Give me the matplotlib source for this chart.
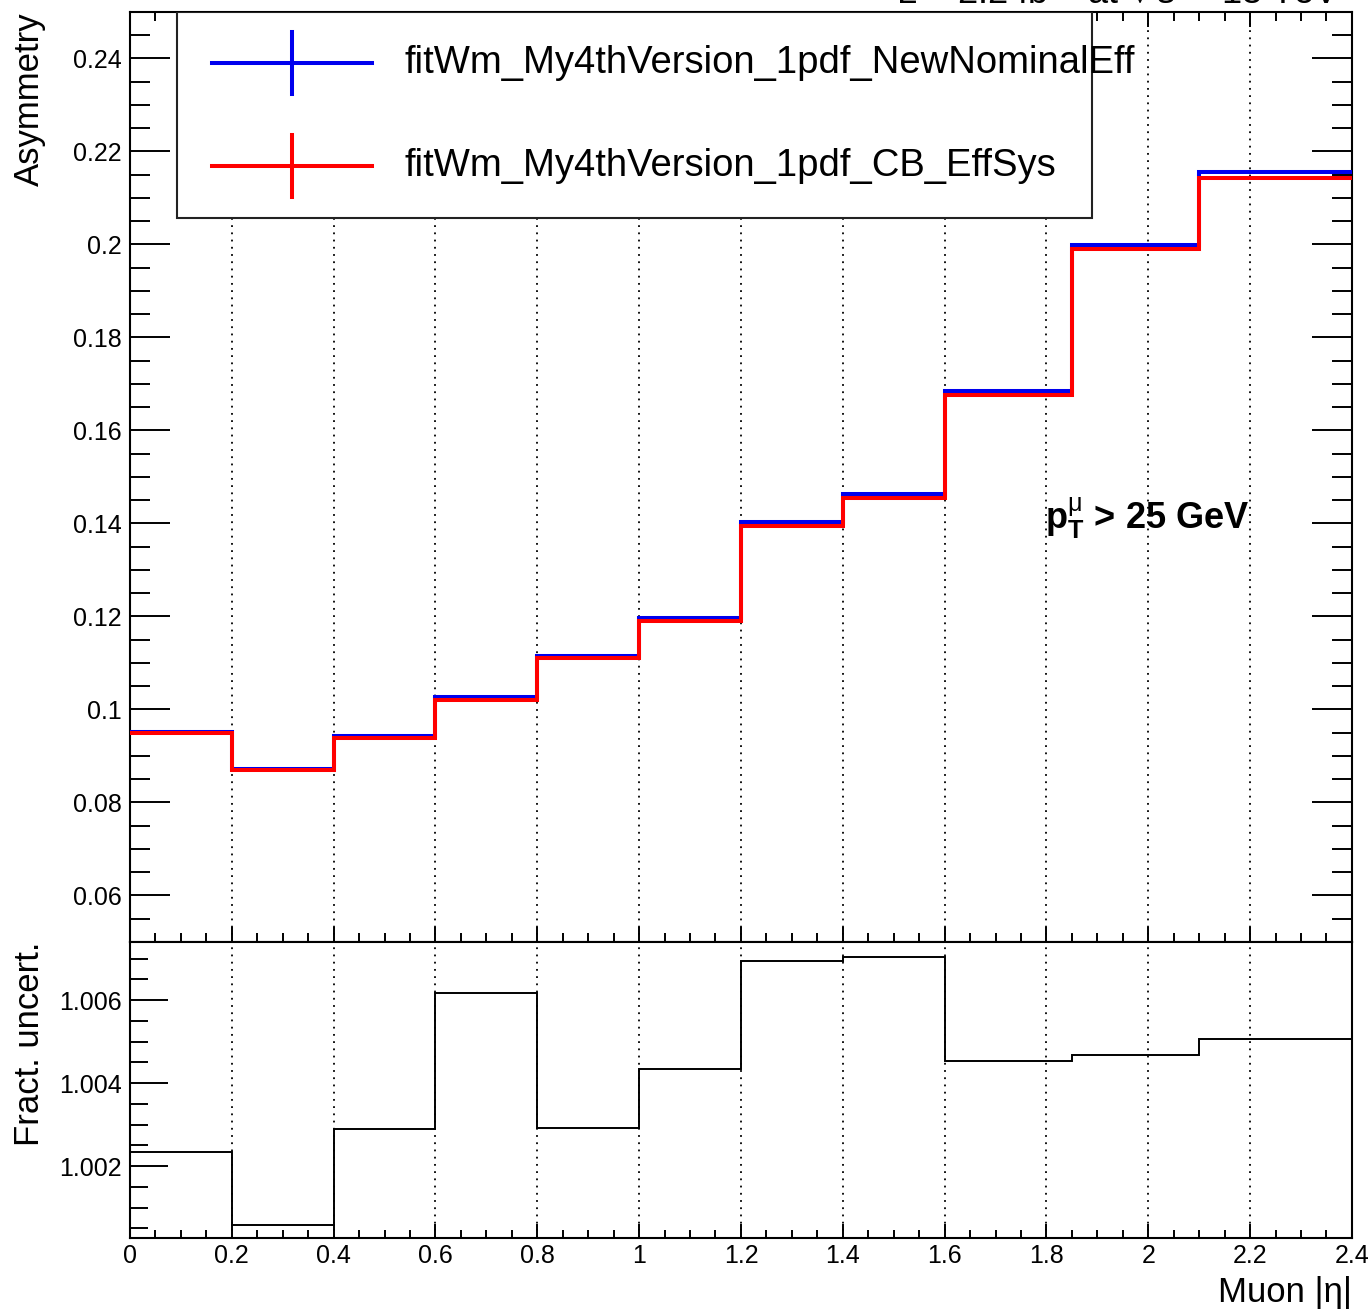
import matplotlib
matplotlib.use("Agg")
import matplotlib.pyplot as plt
from matplotlib.patches import Rectangle
from matplotlib.lines import Line2D
from matplotlib.ticker import MultipleLocator, FuncFormatter

plt.rcParams['font.family'] = ['Liberation Sans', 'DejaVu Sans']
plt.rcParams['mathtext.fontset'] = 'custom'
plt.rcParams['mathtext.rm'] = 'Liberation Sans'
plt.rcParams['mathtext.it'] = 'Liberation Sans:italic'
plt.rcParams['mathtext.bf'] = 'Liberation Sans:bold'

# |eta| binning and the two fitted asymmetries
eta_edges = [0.0, 0.2, 0.4, 0.6, 0.8, 1.0, 1.2, 1.4, 1.6, 1.85, 2.1, 2.4]
asym_nominal = [0.0952, 0.0871, 0.0942, 0.1027, 0.1114, 0.1196, 0.1403, 0.1464, 0.1684, 0.1998, 0.2155]
asym_cb = [0.0950, 0.0870, 0.0939, 0.1021, 0.1111, 0.1191, 0.1395, 0.1455, 0.1676, 0.1990, 0.2144]
fract_unc = [1.00234, 1.00058, 1.00289, 1.00617, 1.00292, 1.00434, 1.00694, 1.00704, 1.00453, 1.00467, 1.00506]

labels = ["fitWm_My4thVersion_1pdf_NewNominalEff", "fitWm_My4thVersion_1pdf_CB_EffSys"]
colors = ["#0000ee", "#ff0000"]

fig = plt.figure(figsize=(13.71, 13.16), dpi=100)
ax = fig.add_axes([0.0948, 0.2842, 0.8913, 0.7067])
axr = fig.add_axes([0.0948, 0.0593, 0.8913, 0.2249], sharex=ax)

ax.stairs(asym_nominal, eta_edges, baseline=None, color=colors[0], lw=2.9, zorder=3)
ax.stairs(asym_cb, eta_edges, baseline=None, color=colors[1], lw=2.9, zorder=3)
axr.stairs(fract_unc, eta_edges, baseline=None, color='black', lw=1.4, zorder=3)

ax.set_xlim(0, 2.4)
ax.set_ylim(0.05, 0.25)
axr.set_ylim(1.00027, 1.0074)

fmt = FuncFormatter(lambda v, p: f"{round(v, 6):g}")
for a in (ax, axr):
    a.xaxis.set_major_locator(MultipleLocator(0.2))
    a.xaxis.set_minor_locator(MultipleLocator(0.05))
    a.xaxis.set_major_formatter(fmt)
    a.yaxis.set_major_formatter(fmt)
    a.grid(axis='x', which='major', ls=(0, (1, 3)), color='black', lw=1.3)
    for s in a.spines.values():
        s.set_linewidth(1.5)
    a.tick_params(labelsize=18, width=1.4, which='both', direction='in')

ax.yaxis.set_major_locator(MultipleLocator(0.02))
ax.yaxis.set_minor_locator(MultipleLocator(0.005))
axr.yaxis.set_major_locator(MultipleLocator(0.002))
axr.yaxis.set_minor_locator(MultipleLocator(0.0005))

ax.tick_params(which='both', top=True, right=True, labelbottom=False)
ax.tick_params(axis='y', which='major', length=29, pad=6)
ax.tick_params(axis='y', which='minor', length=14.5)
ax.tick_params(axis='x', which='major', length=11)
ax.tick_params(axis='x', which='minor', length=6.5)

axr.tick_params(which='both', top=False, right=False)
axr.tick_params(axis='y', which='major', length=27, pad=6)
axr.tick_params(axis='y', which='minor', length=13)
axr.tick_params(axis='x', which='major', length=10, pad=4)
axr.tick_params(axis='x', which='minor', length=6)

ax.set_ylabel('Asymmetry', fontsize=25, loc='top')
ax.yaxis.set_label_coords(-0.069, 1.0)
axr.set_ylabel('Fract. uncert.', fontsize=25, loc='top')
axr.yaxis.set_label_coords(-0.069, 1.0)
axr.set_xlabel('Muon |η|', fontsize=25, loc='right')
axr.xaxis.set_label_coords(1.0, -0.13)

ax.text(1.797, 0.1412, r'$\mathbf{p}_{\mathbf{T}}^{\mathrm{\mu}}$ > 25 GeV',
        fontsize=26, fontweight='bold', va='center', ha='left', zorder=4)

# luminosity line sits above the canvas edge
fig.text(0.977, 1 - 4 / 1316, r'L = 2.2 fb$^{-1}$ at $\sqrt{s}$ = 13 TeV',
         ha='right', va='baseline', fontsize=26)

# legend box, drawn by hand
ax.add_patch(Rectangle((0.0385, 0.7785), 0.7485, 0.2215, transform=ax.transAxes,
                       facecolor='white', edgecolor='#222222', lw=1.5, zorder=5))
for y, lab, c in zip([0.9452, 0.8344], labels, colors):
    ax.add_line(Line2D([0.0671, 0.198], [y, y], transform=ax.transAxes,
                       color=c, lw=2.9, zorder=6))
    ax.add_line(Line2D([0.1326, 0.1326], [y - 0.0333, y + 0.0333], transform=ax.transAxes,
                       color=c, lw=2.9, zorder=6))
    ax.text(0.225, y, lab, transform=ax.transAxes, fontsize=27.5, va='center', ha='left', zorder=7)

fig.savefig('out.png', dpi=100)
